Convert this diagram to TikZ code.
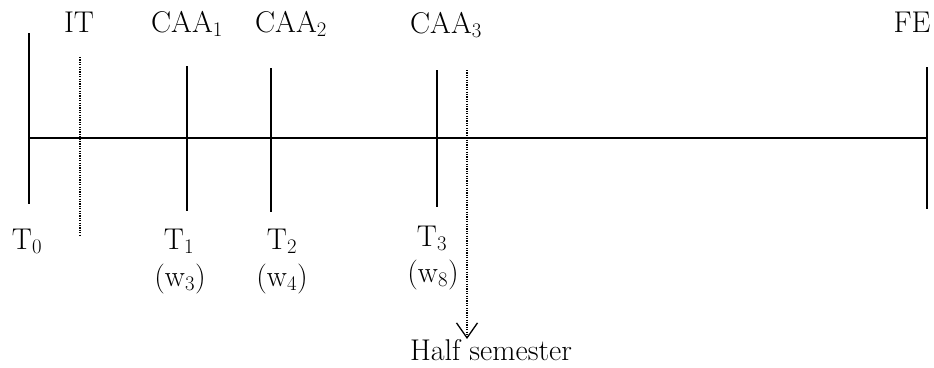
\documentclass[tikz,border=0pt]{standalone}
\usetikzlibrary{arrows.meta}
\begin{document}
\begin{tikzpicture}[x=1pt,y=-1pt,
  tick/.style={line width=1.6pt},
  axisline/.style={line width=1.4pt},
  dotline/.style={line width=1.4pt, dash pattern=on 1.2pt off 1.2pt},
  lbl/.style={inner sep=0pt, anchor=base, font=\fontsize{30}{34}\selectfont}]
\useasboundingbox (0,0) rectangle (934,367);
% tick end points
\coordinate (t0a) at (29,33);   \coordinate (t0b) at (29,204);
\coordinate (ita) at (80,57);   \coordinate (itb) at (80,235);
\coordinate (t1a) at (187,66);  \coordinate (t1b) at (187,211);
\coordinate (t2a) at (271,68);  \coordinate (t2b) at (271,212);
\coordinate (t3a) at (437,70);  \coordinate (t3b) at (437,207);
\coordinate (fea) at (927,67);  \coordinate (feb) at (927,209);
\coordinate (axL) at (29,138);  \coordinate (axR) at (927,138);
\coordinate (hsTop) at (467,70); \coordinate (hsTip) at (467,339);
% axis and ticks
\draw[axisline] (axL) -- (axR);
\draw[tick] (t0a) -- (t0b);
\draw[tick] (t1a) -- (t1b);
\draw[tick] (t2a) -- (t2b);
\draw[tick] (t3a) -- (t3b);
\draw[tick] (fea) -- (feb);
\draw[dotline] (ita) -- (itb);
\draw[dotline, -{Straight Barb[length=15pt,width=21pt,line width=1.3pt]}] (hsTop) -- (hsTip);
% top labels
\node[lbl] (lit)   at (79,32)  {IT};
\node[lbl] (lcaa1) at (187,32) {CAA$_1$};
\node[lbl] (lcaa2) at (291,32) {CAA$_2$};
\node[lbl] (lcaa3) at (446,33) {CAA$_3$};
\node[lbl] (lfe)   at (912,32) {FE};
% bottom labels
\node[lbl] (lt0) at (27,249)  {T$_0$};
\node[lbl] (lt1) at (179,249) {T$_1$};
\node[lbl] (lt2) at (282,249) {T$_2$};
\node[lbl] (lt3) at (432,246) {T$_3$};
\node[lbl] (lw3) at (180,286) {(w$_3$)};
\node[lbl] (lw4) at (282,286) {(w$_4$)};
\node[lbl] (lw8) at (433,282) {(w$_8$)};
\node[lbl] (half) at (491,360) {Half semester};
\end{tikzpicture}
\end{document}
